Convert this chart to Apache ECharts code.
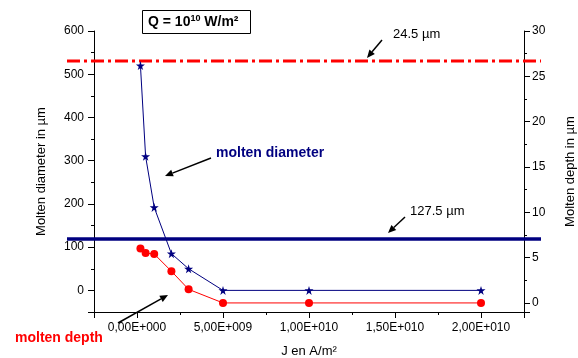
<!DOCTYPE html>
<html>
<head>
<meta charset="utf-8">
<script src="https://cdn.jsdelivr.net/npm/echarts@6/dist/echarts.min.js"></script>
<style>
    html, body { margin: 0; padding: 0; background: #fff; }
    #main { width: 578px; height: 358px; }
</style>
</head>
<body>
<div id="main"></div>
<script>
// J en A/m²
var currentDensity = [2e8, 5e8, 1e9, 2e9, 3e9, 5e9, 1e10, 2e10];
// molten diameter (µm, left axis)
var moltenDiameter = [520, 310, 192, 85, 50, 0, 0, 0];
// molten depth (µm, right axis)
var moltenDepth = [6.0, 5.5, 5.4, 3.5, 1.5, 0, 0, 0];
// reference levels
var diameterLimit = 119;   // on left axis
var depthLimit = 26.7;     // on right axis

var FONT = 'Arial, "Liberation Sans", sans-serif';
var STAR = 'path://M50,0 L61,35 L98,35 L68,57 L79,91 L50,70 L21,91 L32,57 L2,35 L39,35 Z';

function fmtE(v) {
    if (v < 0 || v > 2e10 || v % 5e9 !== 0) return '';
    if (v === 0) return '0,00E+000';
    var e = Math.floor(Math.log10(v) + 1e-9);
    var m = v / Math.pow(10, e);
    return m.toFixed(2).replace('.', ',') + 'E+' + String(e).padStart(3, '0');
}

function arrow(x1, y1, x2, y2) {
    var a = Math.atan2(y2 - y1, x2 - x1);
    var L = 8, W = 3.5;
    var bx = x2 - L * Math.cos(a), by = y2 - L * Math.sin(a);
    var px = -Math.sin(a) * W, py = Math.cos(a) * W;
    return [
        { type: 'line', shape: { x1: x1, y1: y1, x2: bx, y2: by }, style: { stroke: '#000', lineWidth: 1.5 } },
        { type: 'polygon', shape: { points: [[x2, y2], [bx + px, by + py], [bx - px, by - py]] }, style: { fill: '#000' } }
    ];
}

var chartDom = document.getElementById('main');
var myChart = echarts.init(chartDom);
var option;

var axisCommon = {
    axisLine: { show: true, onZero: false, lineStyle: { color: '#000', width: 1 } },
    axisTick: { show: true, inside: false, length: 6, lineStyle: { color: '#000' } },
    minorTick: { show: true, splitNumber: 2, length: 3, lineStyle: { color: '#000' } },
    splitLine: { show: false }
};

var graphics = [
    { type: 'rect', shape: { x: 142.5, y: 10.5, width: 108, height: 23 }, style: { fill: '#fff', stroke: '#000', lineWidth: 1 } },
    {
        type: 'text', x: 148, y: 14,
        style: {
            text: '{a|Q = 10}{s|10}{a| W/m²}',
            rich: {
                a: { fontSize: 14, fontWeight: 'bold', fontFamily: FONT, fill: '#000', lineHeight: 16 },
                s: { fontSize: 9, fontWeight: 'bold', fontFamily: FONT, fill: '#000', verticalAlign: 'top', lineHeight: 16 }
            }
        }
    },
    { type: 'text', x: 393, y: 28, style: { text: '24.5 µm', fontSize: 13, fontFamily: FONT, fill: '#000' } },
    { type: 'text', x: 410, y: 205, style: { text: '127.5 µm', fontSize: 13, fontFamily: FONT, fill: '#000' } },
    { type: 'text', x: 216, y: 146, style: { text: 'molten diameter', fontSize: 14, fontWeight: 'bold', fontFamily: FONT, fill: '#000080' } },
    { type: 'text', x: 15, y: 331, style: { text: 'molten depth', fontSize: 14, fontWeight: 'bold', fontFamily: FONT, fill: '#ff0000' } }
]
    .concat(arrow(382, 40, 367, 58))
    .concat(arrow(405, 217, 388, 233))
    .concat(arrow(211, 158, 165, 176))
    .concat(arrow(118, 323, 168, 295));

option = {
    backgroundColor: '#fff',
    animation: false,
    grid: [
        { left: 94, right: 54, top: 31, bottom: 46, outerBoundsMode: 'none', containLabel: false },
        { left: 67, right: 37, top: 31, bottom: 46, outerBoundsMode: 'none', containLabel: false }
    ],
    xAxis: [
        Object.assign({}, axisCommon, {
            type: 'value', gridIndex: 0, position: 'bottom',
            min: -2.5e9, max: 2.25e10, splitNumber: 5,
            name: 'J en A/m²', nameLocation: 'middle', nameGap: 33,
            nameTextStyle: { color: '#000', fontSize: 13, fontFamily: FONT },
            axisLabel: { color: '#000', fontSize: 12, fontFamily: FONT, margin: 10, formatter: fmtE }
        }),
        { type: 'value', gridIndex: 1, min: 0, max: 1, show: false }
    ],
    yAxis: [
        Object.assign({}, axisCommon, {
            type: 'value', gridIndex: 0, position: 'left',
            min: -50, max: 600, splitNumber: 6,
            name: 'Molten diameter in µm', nameLocation: 'middle', nameGap: 46, nameRotate: 90,
            nameTextStyle: { color: '#000', fontSize: 13, fontFamily: FONT },
            axisLabel: { color: '#000', fontSize: 12, fontFamily: FONT, margin: 10,
                formatter: function (v) { return v < 0 ? '' : String(v); } }
        }),
        Object.assign({}, axisCommon, {
            type: 'value', gridIndex: 0, position: 'right',
            min: -1, max: 30, splitNumber: 6,
            name: 'Molten depth in µm', nameLocation: 'middle', nameGap: 40, nameRotate: 90,
            nameTextStyle: { color: '#000', fontSize: 13, fontFamily: FONT },
            axisLabel: { color: '#000', fontSize: 12, fontFamily: FONT, margin: 8,
                formatter: function (v) { return v < 0 ? '' : String(v); } }
        }),
        { type: 'value', gridIndex: 1, min: -50, max: 600, show: false },
        { type: 'value', gridIndex: 1, min: -1, max: 30, show: false }
    ],
    graphic: graphics,
    series: [
        {
            name: 'depth limit', type: 'line', xAxisIndex: 1, yAxisIndex: 3,
            data: [[0, depthLimit], [1, depthLimit]], symbol: 'none',
            lineStyle: { color: '#ff0000', width: 3, type: [13, 4, 3, 4] }, z: 1
        },
        {
            name: 'diameter limit', type: 'line', xAxisIndex: 1, yAxisIndex: 2,
            data: [[0, diameterLimit], [1, diameterLimit]], symbol: 'none',
            lineStyle: { color: '#000080', width: 3.5 }, z: 1
        },
        {
            name: 'molten depth', type: 'line', xAxisIndex: 0, yAxisIndex: 1,
            data: currentDensity.map(function (x, i) { return [x, moltenDepth[i]]; }),
            symbol: 'circle', symbolSize: 8,
            itemStyle: { color: '#ff0000' },
            lineStyle: { color: '#ff0000', width: 1 }, z: 3
        },
        {
            name: 'molten diameter', type: 'line', xAxisIndex: 0, yAxisIndex: 0,
            data: currentDensity.map(function (x, i) { return [x, moltenDiameter[i]]; }),
            symbol: STAR, symbolSize: 9,
            itemStyle: { color: '#000080' },
            lineStyle: { color: '#000080', width: 1 }, z: 4
        }
    ]
};

option && myChart.setOption(option);
</script>
</body>
</html>
